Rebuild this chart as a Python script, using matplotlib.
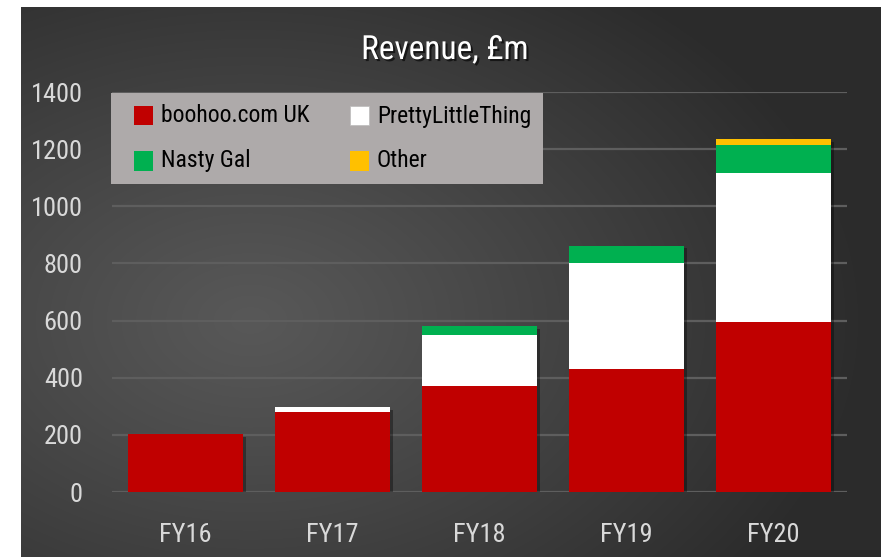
import numpy as np
import matplotlib
matplotlib.use("Agg")
import matplotlib.pyplot as plt
import matplotlib.patheffects as pe
from matplotlib import font_manager as fm
from matplotlib.patches import Rectangle

# ---------------- data ----------------
categories = ["FY16", "FY17", "FY18", "FY19", "FY20"]
series_names = ["boohoo.com UK", "PrettyLittleThing", "Nasty Gal", "Other"]
boohoo = [202, 281, 371, 429, 596]
plt_vals = [0, 15, 179, 374, 520]
nasty_gal = [0, 0, 31, 59, 98]
other = [0, 0, 0, 0, 21]
series_colors = ["#C00000", "#FFFFFF", "#00B050", "#FFC000"]
y_ticks = [0, 200, 400, 600, 800, 1000, 1200, 1400]
title = "Revenue, £m"

# ---------------- font ----------------
names = {f.name for f in fm.fontManager.ttflist}
family = "DejaVu Sans"
stretch = "normal"
for cand in ["Liberation Sans Narrow", "Roboto Condensed", "Open Sans Condensed",
             "Noto Sans Condensed", "DejaVu Sans Condensed"]:
    if cand in names:
        family = cand
        break
else:
    if any(f.name == "DejaVu Sans" and str(f.stretch) in ("condensed", "semi-condensed")
           for f in fm.fontManager.ttflist):
        stretch = "condensed"
plt.rcParams["font.family"] = [family, "DejaVu Sans"]
plt.rcParams["font.stretch"] = stretch

W, H = 881, 557
fig = plt.figure(figsize=(W / 100, H / 100), dpi=100)
fig.patch.set_facecolor("white")

# ---------------- background gradient ----------------
bg = fig.add_axes([21 / W, 0, (W - 21) / W, (H - 7) / H])
bg.set_axis_off()
gx, gy = np.meshgrid(np.arange(21, W), np.arange(7, H))
cx, cy = 250, 320
r = np.sqrt(((gx - cx) / 620.0) ** 2 + ((gy - cy) / 420.0) ** 2)
r = np.clip(r, 0, 1)
val = 88 - (88 - 43) * r ** 1.1
img = np.dstack([val, val, val]) / 255.0
bg.imshow(img, aspect="auto", extent=[0, 1, 0, 1], interpolation="bilinear")
bg.set_xlim(0, 1)
bg.set_ylim(0, 1)

# ---------------- main axes ----------------
ax_left, ax_right = 112, 847
ax_top, ax_bottom = 92, 492
ax = fig.add_axes([ax_left / W, (H - ax_bottom) / H,
                   (ax_right - ax_left) / W, (ax_bottom - ax_top) / H])
ax.set_facecolor("none")
for s in ax.spines.values():
    s.set_visible(False)

x = np.arange(len(categories))
width = 0.78
stack = [np.array(v, dtype=float) for v in (boohoo, plt_vals, nasty_gal, other)]
totals = np.sum(stack, axis=0)

# soft shadow behind each whole stack
shadow_bars = ax.bar(x, totals, width, color="#202020", edgecolor="none", zorder=2)
for b in shadow_bars:
    b.set_path_effects([pe.SimplePatchShadow(offset=(2.5, -2), shadow_rgbFace="black", alpha=0.35),
                        pe.Normal()])

bottom = np.zeros(len(categories))
for v, col in zip(stack, series_colors):
    ax.bar(x, v, width, bottom=bottom, color=col, edgecolor="none", zorder=3)
    bottom += v

ax.set_xlim(-0.5, len(categories) - 0.5)
ax.set_ylim(0, 1400)
ax.set_yticks(y_ticks)
ax.set_yticklabels([str(t) for t in y_ticks])
ax.set_xticks(x)
ax.set_xticklabels(categories)
ax.tick_params(axis="y", length=0, pad=21, labelsize=19, labelcolor="#D9D9D9")
ax.tick_params(axis="x", length=0, pad=22, labelsize=19, labelcolor="#D9D9D9")
ax.grid(axis="y", color="#5E5E5E", linewidth=1.6, zorder=0)
ax.set_axisbelow(True)

# ---------------- title ----------------
fig.text(445 / W, 1 - 50 / H, title, ha="center", va="center", fontsize=24,
         color="white",
         path_effects=[pe.SimplePatchShadow(offset=(1.5, -1.5), shadow_rgbFace="black", alpha=0.6),
                       pe.Normal()])

# ---------------- legend (box in pixel-derived fig coords) ----------------
def fx(px):
    return px / W

def fy(py):
    return 1 - py / H

fig.patches.append(Rectangle((fx(111), fy(184)), fx(543) - fx(111), fy(93) - fy(184),
                             transform=fig.transFigure, facecolor="#AEAAAA",
                             edgecolor="none", zorder=5))
positions = [(134, 116), (350, 116), (134, 161), (350, 161)]
for i, (px, py) in enumerate(positions):
    fig.patches.append(Rectangle((fx(px), fy(py + 9.5)), fx(19), 19 / H,
                                 transform=fig.transFigure, facecolor=series_colors[i],
                                 edgecolor="#BBBBBB" if i == 1 else "none",
                                 linewidth=0.5, zorder=6))
    fig.text(fx(px + 27), fy(py), series_names[i], ha="left", va="center",
             fontsize=17, color="black", zorder=7)

fig.savefig("out.png", dpi=100, facecolor=fig.get_facecolor())
